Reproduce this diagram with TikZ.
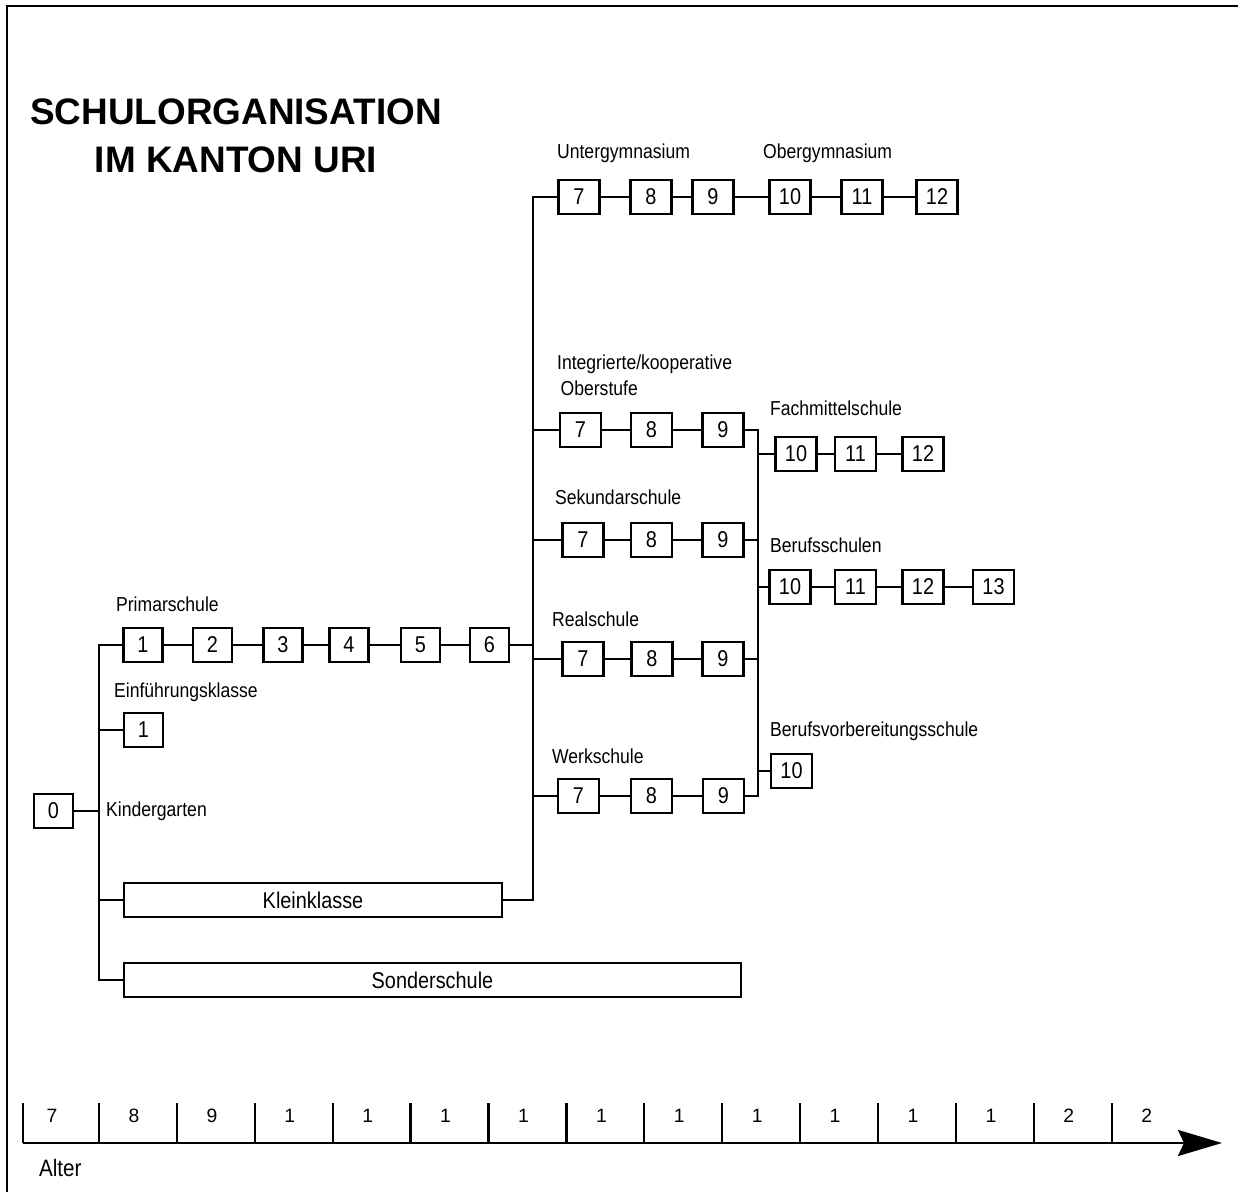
\documentclass[tikz,border=0pt]{standalone}
\usepackage{fontspec}
\setmainfont{Liberation Sans}
\newfontfamily\schmal[FakeStretch=0.87]{Liberation Sans}
\usetikzlibrary{arrows.meta}

\begin{document}
\begin{tikzpicture}[x=0.02cm, y=-0.02cm, line width=1.3pt,
  jahr/.style={draw, minimum width=0.82cm, minimum height=0.68cm, inner sep=0pt, font=\schmal\fontsize{13}{15}\selectfont},
  balken/.style={draw, minimum height=0.68cm, inner sep=0pt, font=\schmal\fontsize{13}{15}\selectfont},
  schule/.style={anchor=west, inner sep=0pt, font=\schmal\fontsize{11.5}{14}\selectfont},
  alter/.style={font=\fontsize{11}{13}\selectfont}]

\useasboundingbox (0,0) rectangle (1238,1192);
% frame
\draw[line width=1.4pt] (7,1192) -- (7,6) -- (1238,6);

% title
\node[font=\fontsize{21}{27}\selectfont\bfseries, align=center] (titel) at (236,136) {SCHULORGANISATION\\IM KANTON URI};

% Kindergarten, Einfuehrungsklasse, Primarschule
\node[jahr, minimum width=0.78cm] (k0) at (53.5,811) {0};
\node[jahr, minimum width=0.78cm] (e1) at (143.5,730) {1};
\foreach \n/\x in {1/143,2/212.5,3/283,4/349,5/420.5,6/489.5}
  \node[jahr, minimum width=0.78cm] (p\n) at (\x,645) {\n};
\foreach \a/\b in {1/2,2/3,3/4,4/5,5/6}
  \draw (p\a) -- (p\b);
\node[balken, minimum width=7.56cm] (klein) at (313,900) {Kleinklasse};
\node[balken, minimum width=12.34cm] (sonder) at (432.5,980) {Sonderschule};

\node[schule] (lprimar) at (115,604) {Primarschule};
\node[schule] (leinf) at (113,692) {Einführungsklasse};
\node[schule] (lkinder) at (105,811) {Kindergarten};

% Oberstufe
\foreach \n/\x in {7/579,8/651,9/713,10/790,11/862,12/937}
  \node[jahr] (g\n) at (\x,197) {\n};
\foreach \a/\b in {7/8,8/9,9/10,10/11,11/12}
  \draw (g\a) -- (g\b);
\foreach \n/\x in {7/580.5,8/651.5,9/723}
  \node[jahr] (io\n) at (\x,430) {\n};
\foreach \n/\x in {7/583,8/651.5,9/723}
  \node[jahr] (sk\n) at (\x,540) {\n};
\foreach \n/\x in {7/583,8/652,9/723}
  \node[jahr] (rs\n) at (\x,659) {\n};
\foreach \n/\x in {7/578.5,8/651.5,9/723.5}
  \node[jahr] (ws\n) at (\x,796) {\n};
\foreach \r in {io,sk,rs,ws}{
  \draw (\r7) -- (\r8);
  \draw (\r8) -- (\r9);
}

\node[schule] (lunter) at (556,153) {Untergymnasium};
\node[schule] (lober) at (762,153) {Obergymnasium};
\node[schule, align=left, font=\schmal\fontsize{11.5}{14.8}\selectfont] (linteg) at (556,375) {Integrierte/kooperative\\\hspace{2pt}Oberstufe};
\node[schule] (lsek) at (554,497) {Sekundarschule};
\node[schule] (lreal) at (551,619) {Realschule};
\node[schule] (lwerk) at (551,756) {Werkschule};

% Sekundarstufe II
\foreach \n/\x in {10/796,11/855.5,12/923}
  \node[jahr] (fm\n) at (\x,454) {\n};
\foreach \n/\x in {10/790,11/855.5,12/923,13/993.5}
  \node[jahr] (bs\n) at (\x,587) {\n};
\node[jahr] (bv10) at (791.5,771) {10};
\draw (fm10) -- (fm11);
\draw (fm11) -- (fm12);
\draw (bs10) -- (bs11);
\draw (bs11) -- (bs12);
\draw (bs12) -- (bs13);

\node[schule] (lfach) at (769,408) {Fachmittelschule};
\node[schule] (lberuf) at (769,545) {Berufsschulen};
\node[schule] (lbvs) at (769,731) {Berufsvorbereitungsschule};

% Verbindungen
\coordinate (lo) at (99,645);
\coordinate (lu) at (99,980);
\coordinate (mo) at (533,197);
\coordinate (mu) at (533,900);
\coordinate (ro) at (758,430);
\coordinate (ru) at (758,796);

\draw (p1) -- (lo) -- (lu) -- (sonder);
\draw (k0) -- (k0 -| lo);
\draw (e1) -- (e1 -| lo);
\draw (klein) -- (klein -| lo);
\draw (g7) -- (mo) -- (mu) -- (klein);
\draw (p6) -- (p6 -| mo);
\foreach \r in {io,sk,rs,ws}
  \draw (\r7) -- (\r7 -| mo);
\draw (io9) -- (ro) -- (ru) -- (ws9);
\draw (sk9) -- (sk9 -| ro);
\draw (rs9) -- (rs9 -| ro);
\draw (ro |- fm10) -- (fm10);
\draw (ro |- bs10) -- (bs10);
\draw (ro |- bv10) -- (bv10);

% Altersachse
\coordinate (achse) at (23,1143);
\coordinate (pfeil) at (1222,1143);
\draw[-{Stealth[length=0.88cm, width=0.52cm, inset=0.12cm]}] (achse) -- (pfeil);
\draw (23,1103) -- (achse);
\foreach \i in {0,...,13}
  \draw ({99+77.9*\i},1103) -- ({99+77.9*\i},1143);
\node[alter] (z7) at (52,1116) {7};
\foreach \t [count=\k from 0] in {8,9,1,1,1,1,1,1,1,1,1,1,2,2}
  \node[alter] (z\k) at ({134+77.9*\k},1116) {\t};
\node[schule, font=\schmal\fontsize{13.5}{15}\selectfont] (lalter) at (38,1168) {Alter};
\end{tikzpicture}
\end{document}
